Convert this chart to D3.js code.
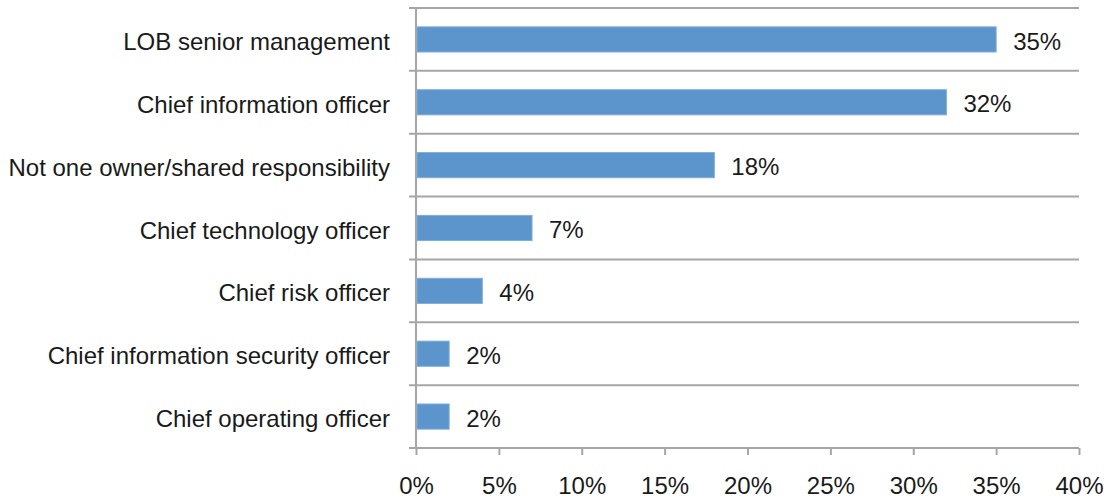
<!DOCTYPE html>
<html>
<head>
<meta charset="utf-8">
<script src="https://cdn.jsdelivr.net/npm/d3@7"></script>
<style>
  html, body { margin: 0; padding: 0; background: #fff; }
  svg { display: block; }
  text { font-family: "Liberation Sans", Arial, sans-serif; fill: #1a1a1a; }
</style>
</head>
<body>
<svg id="chart" width="1109" height="499"></svg>
<script>
// Who owns the initiative — share of respondents
const categories = [
  "LOB senior management",
  "Chief information officer",
  "Not one owner/shared responsibility",
  "Chief technology officer",
  "Chief risk officer",
  "Chief information security officer",
  "Chief operating officer"
];
const values = [35, 32, 18, 7, 4, 2, 2];
const xTicks = [0, 5, 10, 15, 20, 25, 30, 35, 40];

const svg = d3.select("#chart");
const plotLeft = 416, plotRight = 1079, plotTop = 8, plotBottom = 448;
const gridColor = "#a6a6a6";
const fontSize = 24;

const x = d3.scaleLinear().domain([0, 40]).range([plotLeft, plotRight]);
const y = d3.scaleBand().domain(categories).range([plotTop, plotBottom]).paddingInner(0.6).paddingOuter(0.3);

// horizontal separators between category bands
const bounds = d3.range(categories.length + 1).map(i => plotTop + i * (plotBottom - plotTop) / categories.length);
svg.append("g").selectAll("line").data(bounds).join("line")
  .attr("x1", plotLeft - 7).attr("x2", plotRight)
  .attr("y1", d => d).attr("y2", d => d)
  .attr("stroke", gridColor).attr("stroke-width", 2);

// vertical value axis line
svg.append("line")
  .attr("x1", plotLeft).attr("x2", plotLeft).attr("y1", plotTop).attr("y2", plotBottom)
  .attr("stroke", gridColor).attr("stroke-width", 2);

// bottom axis with ticks
const xAxis = d3.axisBottom(x).tickValues(xTicks).tickFormat(d => d + "%").tickSize(7).tickPadding(22);
const gx = svg.append("g").attr("transform", `translate(0,${plotBottom})`).call(xAxis);
gx.select(".domain").remove();
gx.selectAll(".tick line").attr("stroke", gridColor).attr("stroke-width", 2);
gx.selectAll(".tick text").attr("font-size", fontSize).attr("fill", "#1a1a1a")
  .style("font-family", '"Liberation Sans", Arial, sans-serif');

// bars
svg.append("g").selectAll("rect").data(values).join("rect")
  .attr("x", x(0) + 1)
  .attr("y", (d, i) => y(categories[i]))
  .attr("width", d => x(d) - x(0) - 1)
  .attr("height", y.bandwidth())
  .attr("fill", "#5b95cb")
  .attr("stroke", "#80acd8").attr("stroke-width", 1);

// value labels
svg.append("g").selectAll("text").data(values).join("text")
  .attr("x", d => x(d) + 17)
  .attr("y", (d, i) => y(categories[i]) + y.bandwidth() / 2)
  .attr("dy", "0.42em")
  .attr("font-size", fontSize)
  .text(d => d + "%");

// category labels
svg.append("g").selectAll("text").data(categories).join("text")
  .attr("x", plotLeft - 26)
  .attr("y", d => y(d) + y.bandwidth() / 2)
  .attr("dy", "0.44em")
  .attr("text-anchor", "end")
  .attr("font-size", fontSize)
  .text(d => d);
</script>
</body>
</html>
